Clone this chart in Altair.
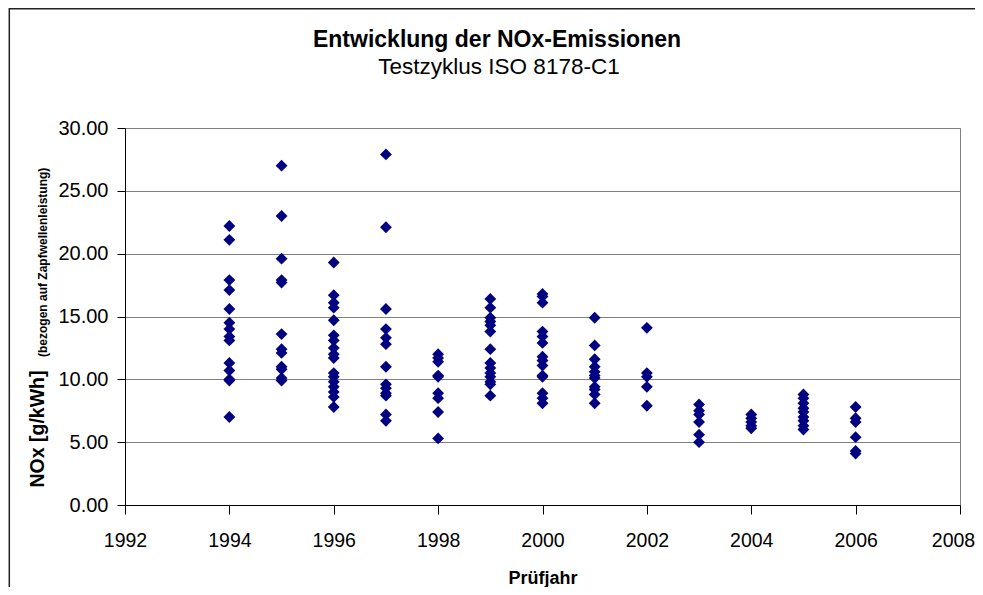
import altair as alt
import pandas as pd

# ---- data ----
years = [1994, 1995, 1996, 1997, 1998, 1999, 2000, 2001, 2002, 2003, 2004, 2005, 2006]
nox_1994 = [22.2, 21.1, 17.9, 17.1, 15.6, 14.5, 14.0, 13.4, 13.1, 11.3, 10.7, 10.0, 9.9, 7.0]
nox_1995 = [27.0, 23.0, 19.6, 17.9, 17.7, 13.6, 12.4, 12.1, 11.0, 10.8, 10.1, 9.9]
nox_1996 = [19.3, 16.7, 16.1, 15.7, 14.7, 13.5, 13.1, 12.5, 12.0, 11.7, 10.5, 10.2, 9.8, 9.4, 9.0, 8.6, 7.8]
nox_1997 = [27.9, 22.1, 15.6, 14.0, 13.3, 12.8, 11.0, 9.6, 9.3, 8.9, 8.7, 7.2, 6.7]
nox_1998 = [12.0, 11.7, 11.4, 10.3, 10.2, 8.9, 8.5, 7.4, 5.3]
nox_1999 = [16.4, 15.7, 14.9, 14.6, 14.3, 13.8, 12.4, 11.3, 10.9, 10.5, 10.2, 9.8, 9.6, 8.7]
nox_2000 = [16.8, 16.6, 16.1, 13.8, 13.4, 12.9, 11.8, 11.5, 11.1, 10.3, 10.2, 8.9, 8.5, 8.1]
nox_2001 = [14.9, 12.7, 11.6, 11.0, 10.6, 10.3, 10.1, 9.4, 9.2, 8.8, 8.1]
nox_2002 = [14.1, 10.5, 10.2, 9.4, 7.9]
nox_2003 = [8.0, 7.5, 7.2, 6.6, 5.6, 5.0]
nox_2004 = [7.2, 6.9, 6.6, 6.3, 6.1]
nox_2005 = [8.8, 8.5, 8.1, 7.7, 7.4, 7.0, 6.7, 6.3, 6.0]
nox_2006 = [7.8, 6.9, 6.6, 5.4, 4.3, 4.1]

x_ticks = list(range(1992, 2009, 2))
y_ticks = [0, 5, 10, 15, 20, 25, 30]

title_text = "Entwicklung der NOx-Emissionen"
subtitle_text = "Testzyklus ISO 8178-C1"
x_title = "Prüfjahr"
y_title = "NOx [g/kWh]"
y_title_small = "(bezogen auf Zapfwellenleistung)"

series = [nox_1994, nox_1995, nox_1996, nox_1997, nox_1998, nox_1999, nox_2000,
          nox_2001, nox_2002, nox_2003, nox_2004, nox_2005, nox_2006]
rows = []
for yr, vals in zip(years, series):
    for v in vals:
        rows.append({"Jahr": yr, "NOx": v})
df = pd.DataFrame(rows)

FONT = "Liberation Sans"
NAVY = "#000080"

points = alt.Chart(df).mark_point(
    shape="diamond", filled=True, size=140, color=NAVY, opacity=1
).encode(
    x=alt.X("Jahr:Q",
            scale=alt.Scale(domain=[1992, 2008], nice=False, zero=False),
            axis=alt.Axis(values=x_ticks, format="d", title=x_title,
                          grid=False, labelFlush=False, labelOverlap=False,
                          labelFontSize=19.5, labelPadding=17, tickSize=9,
                          labelOffset=alt.condition("datum.value == 2008",
                                                    alt.value(-7), alt.value(0)),
                          titleFontSize=18, titleFontWeight="bold",
                          titleBaseline="alphabetic", titleY=78)),
    y=alt.Y("NOx:Q",
            scale=alt.Scale(domain=[0, 30], nice=False),
            axis=alt.Axis(values=y_ticks, format=".2f", title=y_title,
                          grid=True, labelFontSize=20, labelPadding=9, tickSize=8,
                          titleFontSize=19.5, titleFontWeight="bold",
                          titleAngle=270, titleAlign="left",
                          titleBaseline="alphabetic", titleX=-82, titleY=359)),
)

one = pd.DataFrame({"t": [0]})

title_mark = alt.Chart(pd.DataFrame({"t": [title_text]})).mark_text(
    font=FONT, fontSize=23, fontWeight="bold", color="black",
    align="center", baseline="alphabetic"
).encode(x=alt.value(372), y=alt.value(-81), text="t:N")

subtitle_mark = alt.Chart(pd.DataFrame({"t": [subtitle_text]})).mark_text(
    font=FONT, fontSize=22.5, color="black",
    align="center", baseline="alphabetic"
).encode(x=alt.value(374), y=alt.value(-54), text="t:N")

small_title = alt.Chart(pd.DataFrame({"t": [y_title_small]})).mark_text(
    font=FONT, fontSize=12, fontWeight="bold", color="black",
    align="left", baseline="alphabetic", angle=270
).encode(x=alt.value(-78), y=alt.value(229), text="t:N")

frame = alt.Chart(one).mark_rect(
    fillOpacity=0, stroke="#222222", strokeWidth=1.5
).encode(x=alt.value(-115.7), x2=alt.value(1000), y=alt.value(-119.2), y2=alt.value(700))

chart = alt.layer(frame, points, title_mark, subtitle_mark, small_title).properties(
    width=835, height=377,
    autosize=alt.AutoSizeParams(type="none"),
    padding={"left": 117, "top": 120, "right": 15, "bottom": 82},
    background="white",
).configure_view(
    stroke="#808080", strokeWidth=1
).configure_axis(
    labelFont=FONT, titleFont=FONT, labelColor="black", titleColor="black",
    domainColor="black", tickColor="black", domainWidth=1, tickWidth=1,
    gridColor="#808080", gridWidth=1
)

chart.save("out.html", embed_options={"renderer": "svg", "actions": False})
